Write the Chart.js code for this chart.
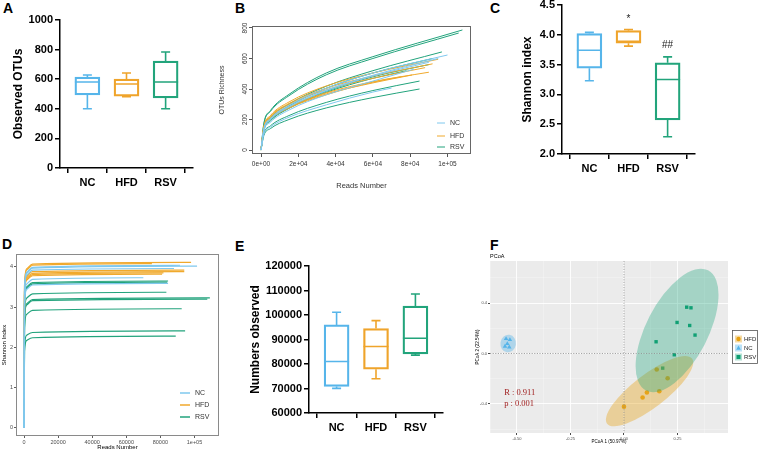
<!DOCTYPE html>
<html>
<head>
<meta charset="utf-8">
<script src="https://cdn.jsdelivr.net/npm/chart.js@4.4.0/dist/chart.umd.min.js"></script>
<style>
  html, body { margin: 0; padding: 0; background: #fff; }
  body { width: 760px; height: 452px; position: relative; overflow: hidden; }
  canvas { position: absolute; }
  .tag { position: absolute; font: bold 14px "Liberation Sans", Arial, sans-serif; color: #000; line-height: 1; }
</style>
</head>
<body>
<div class="tag" style="left:3px;top:1px">A</div>
<div class="tag" style="left:235px;top:1px">B</div>
<div class="tag" style="left:490px;top:1px">C</div>
<div class="tag" style="left:2px;top:237px">D</div>
<div class="tag" style="left:235px;top:239px">E</div>
<div class="tag" style="left:490px;top:238px">F</div>

<canvas id="chartA" width="205" height="195" style="left:0;top:0"></canvas>
<canvas id="chartB" width="280" height="195" style="left:210px;top:0"></canvas>
<canvas id="chartC" width="220" height="195" style="left:490px;top:-10px"></canvas>
<canvas id="chartD" width="240" height="222" style="left:0;top:230px"></canvas>
<canvas id="chartE" width="210" height="225" style="left:240px;top:225px"></canvas>
<canvas id="chartF" width="290" height="222" style="left:470px;top:230px"></canvas>

<script>
const SANS = '"Liberation Sans", Arial, sans-serif';

const groups = ["NC", "HFD", "RSV"];
const boxColors = ["#56B5EA", "#EFA42B", "#22A47B"];
const lineColors = ["#7FC8EE", "#F0A92C", "#22A37C"];

// A: observed OTUs
const otuMin = [400, 482, 400];
const otuQ1 = [493, 486, 473];
const otuMed = [581, 568, 581];
const otuQ3 = [615, 601, 723];
const otuMax = [628, 642, 784];

// C: Shannon index
const shanMin = [3.23, 3.81, 2.29];
const shanQ1 = [3.44, 3.86, 2.57];
const shanMed = [3.74, 3.89, 3.25];
const shanQ3 = [4.02, 4.07, 3.53];
const shanMax = [4.04, 4.09, 3.63];
const shanSig = ["", "*", "##"];
const shanSigAt = [null, 4.26, 3.83];

// E: reads observed
const readsMin = [70040, 73980, 83610];
const readsQ1 = [70850, 77900, 84150];
const readsMed = [81030, 87140, 90530];
const readsQ3 = [95960, 94460, 103690];
const readsMax = [101100, 97720, 108570];

// B: OTU rarefaction (reads grid, then each sample's own depth)
const rareReads = [0, 1500, 5000, 15000, 35000, 60000];
const rareNcDepth = [100000, 95000, 90000, 82000, 70000];
const rareNc = [
  [0, 137, 205, 293, 405, 505, 623],
  [0, 133, 200, 285, 393, 490, 600],
  [0, 130, 198, 282, 388, 485, 575],
  [0, 122, 182, 262, 362, 452, 530],
  [0, 102, 150, 215, 296, 380, 406],
];
const rareHfdDepth = [95000, 92000, 88000, 90000, 81000, 75000];
const rareHfd = [
  [0, 150, 225, 315, 420, 505, 595],
  [0, 148, 220, 305, 405, 485, 565],
  [0, 145, 215, 298, 395, 470, 540],
  [0, 140, 208, 285, 375, 448, 510],
  [0, 138, 205, 280, 368, 440, 492],
  [0, 135, 200, 275, 362, 445, 480],
];
const rareRsvDepth = [108000, 106000, 97000, 92000, 90000, 78000, 85000, 85000];
const rareRsv = [
  [0, 172, 258, 365, 505, 612, 787],
  [0, 168, 252, 356, 493, 600, 767],
  [0, 142, 213, 302, 418, 520, 643],
  [0, 135, 205, 290, 405, 505, 600],
  [0, 128, 195, 278, 385, 480, 560],
  [0, 128, 190, 273, 378, 470, 520],
  [0, 106, 158, 226, 312, 390, 452],
  [0, 94, 140, 200, 276, 344, 400],
];
const bTickVals = [0, 20000, 40000, 60000, 80000, 100000];
const bTickLabels = ["0e+00", "2e+04", "4e+04", "6e+04", "8e+04", "1e+05"];
const bYTicks = [0, 200, 400, 600, 800];

// D: Shannon rarefaction
const shRareReads = [0, 300, 1500, 5000];
const shNcDepth = [91500, 101500, 88000, 70000, 84500];
const shNc = [
  [0, 3.45, 3.86, 3.99, 4.04],
  [0, 3.42, 3.84, 3.97, 4.02],
  [0, 3.38, 3.79, 3.92, 3.96],
  [0, 3.18, 3.57, 3.69, 3.73],
  [0, 3.05, 3.44, 3.55, 3.59],
];
const shHfdDepth = [98000, 75000, 94000, 94000, 81800, 81000];
const shHfd = [
  [0, 3.55, 3.95, 4.07, 4.11],
  [0, 3.52, 3.92, 4.04, 4.08],
  [0, 3.38, 3.77, 3.88, 3.92],
  [0, 3.34, 3.73, 3.84, 3.88],
  [0, 3.31, 3.70, 3.81, 3.85],
  [0, 3.28, 3.67, 3.78, 3.82],
];
const shRsvDepth = [84500, 84000, 83500, 109000, 107500, 92500, 94500, 89000];
const shRsv = [
  [0, 3.10, 3.50, 3.61, 3.65],
  [0, 3.08, 3.47, 3.58, 3.62],
  [0, 2.85, 3.22, 3.33, 3.37],
  [0, 2.72, 3.08, 3.19, 3.23],
  [0, 2.70, 3.05, 3.16, 3.20],
  [0, 2.48, 2.82, 2.92, 2.96],
  [0, 2.02, 2.30, 2.37, 2.41],
  [0, 1.90, 2.17, 2.24, 2.28],
];
const dTickVals = [0, 20000, 40000, 60000, 80000, 100000];
const dTickLabels = ["0", "20000", "40000", "60000", "80000", "1e+05"];
const dYTicks = [0, 1, 2, 3, 4];

// F: PCoA
const pcoaHfd = [[0.153, -0.127], [0.204, -0.196], [0.165, -0.299], [0.107, -0.309], [0.087, -0.349], [0.0, -0.421]];
const pcoaNc = [[-0.551, 0.117], [-0.533, 0.109], [-0.545, 0.077], [-0.556, 0.056], [-0.536, 0.05]];
const pcoaRsv = [[0.293, 0.367], [0.313, 0.362], [0.248, 0.246], [0.307, 0.222], [0.332, 0.146], [0.15, 0.093], [0.235, -0.01], [0.181, -0.116]];
// ellipse: major axis end points (x1, y1, x2, y2) and minor/major ratio
const ellHfd = [-0.079, -0.556, 0.318, -0.04];
const ellHfdRatio = 0.31;
const ellNc = [-0.535, 0.148, -0.547, 0.01];
const ellNcRatio = 0.88;
const ellRsv = [0.103, -0.294, 0.393, 0.659];
const ellRsvRatio = 0.457;
const fMajorX = [-0.5, -0.25, 0, 0.25];
const fMinorX = [-0.625, -0.375, -0.125, 0.125, 0.375];
const fMajorY = [-0.4, 0, 0.4];
const fMinorY = [-0.6, -0.2, 0.2, 0.6];
const fStats = ["R : 0.911", "p : 0.001"];
const fStatY = [-0.31, -0.395];
const fStatX = -0.56;

// ---------- box plots (A, C, E) ----------
const boxExtras = {
  id: "boxExtras",
  afterDatasetsDraw(chart, args, opts) {
    const { ctx } = chart;
    const y = chart.scales.y;
    const meta = chart.getDatasetMeta(0);
    ctx.save();
    ctx.lineWidth = 1.6;
    meta.data.forEach((bar, i) => {
      const xc = bar.x;
      const half = bar.width / 2;
      const pMin = y.getPixelForValue(opts.min[i]);
      const pQ1 = y.getPixelForValue(opts.q1[i]);
      const pMed = y.getPixelForValue(opts.med[i]);
      const pQ3 = y.getPixelForValue(opts.q3[i]);
      const pMax = y.getPixelForValue(opts.max[i]);
      ctx.strokeStyle = boxColors[i];
      ctx.beginPath();
      ctx.moveTo(xc - half, pMed);
      ctx.lineTo(xc + half, pMed);
      ctx.moveTo(xc, pQ3);
      ctx.lineTo(xc, pMax);
      ctx.moveTo(xc - 4.5, pMax);
      ctx.lineTo(xc + 4.5, pMax);
      ctx.moveTo(xc, pQ1);
      ctx.lineTo(xc, pMin);
      ctx.moveTo(xc - 4.5, pMin);
      ctx.lineTo(xc + 4.5, pMin);
      ctx.stroke();
      if (opts.sig && opts.sig[i]) {
        ctx.fillStyle = "#222";
        ctx.font = "10px " + SANS;
        ctx.textAlign = "center";
        ctx.textBaseline = "middle";
        ctx.fillText(opts.sig[i], xc, y.getPixelForValue(opts.sigAt[i]));
      }
    });
    ctx.restore();
  },
};

function boxChart(id, stats, yOpts, lay) {
  return new Chart(document.getElementById(id), {
    type: "bar",
    data: {
      datasets: [
        {
          data: groups.map((g, i) => ({ x: i + 1, y: [stats.q1[i], stats.q3[i]] })),
          backgroundColor: "rgba(255,255,255,0)",
          borderColor: boxColors,
          borderWidth: 1.6,
          borderSkipped: false,
          barThickness: 25,
        },
      ],
    },
    options: {
      responsive: false,
      animation: false,
      layout: { padding: { top: lay.top, right: lay.right, left: 0, bottom: 0 } },
      plugins: {
        legend: { display: false },
        tooltip: { enabled: false },
        boxExtras: stats,
      },
      scales: {
        x: {
          type: "linear",
          offset: false,
          min: 0.3,
          max: 3.7,
          afterBuildTicks: (s) => {
            s.ticks = groups.map((g, i) => ({ value: i + 1 }));
          },
          afterFit: (s) => {
            s.height = lay.xh;
          },
          ticks: {
            callback: (v, i) => groups[i],
            font: { family: SANS, size: 11, weight: "bold" },
            color: "#000",
            padding: 3,
            maxRotation: 0,
          },
          grid: { drawOnChartArea: false, tickLength: 5, color: "#000", lineWidth: 1.5 },
          border: { color: "#000", width: 1.5 },
        },
        y: {
          min: yOpts.min,
          max: yOpts.max,
          ticks: {
            stepSize: yOpts.step,
            callback: yOpts.fmt,
            font: { family: SANS, size: 11, weight: "bold" },
            color: "#000",
            padding: 2,
          },
          afterFit: (s) => {
            s.width = lay.yw;
          },
          grid: { drawOnChartArea: false, tickLength: 5, color: "#000", lineWidth: 1.5 },
          border: { color: "#000", width: 1.5 },
          title: {
            display: true,
            text: yOpts.title,
            font: { family: SANS, size: 12, weight: "bold" },
            color: "#000",
            padding: { top: lay.tp, bottom: 0 },
          },
        },
      },
    },
    plugins: [boxExtras],
  });
}

boxChart(
  "chartA",
  { min: otuMin, q1: otuQ1, med: otuMed, q3: otuQ3, max: otuMax },
  { min: 0, max: 1000, step: 200, title: "Observed OTUs", fmt: (v) => String(v) },
  { top: 20, right: 12, xh: 27, yw: 60, tp: 11 }
);

boxChart(
  "chartC",
  { min: shanMin, q1: shanQ1, med: shanMed, q3: shanQ3, max: shanMax, sig: shanSig, sigAt: shanSigAt },
  { min: 2, max: 4.5, step: 0.5, title: "Shannon index", fmt: (v) => v.toFixed(1) },
  { top: 15, right: 15, xh: 31, yw: 72, tp: 30 }
);

boxChart(
  "chartE",
  { min: readsMin, q1: readsQ1, med: readsMed, q3: readsQ3, max: readsMax },
  { min: 60000, max: 120000, step: 10000, title: "Numbers observed", fmt: (v) => String(v) },
  { top: 41, right: 7, xh: 37, yw: 69, tp: 8 }
);

// ---------- rarefaction curves (B, D) ----------
function curveSets(reads, depths, values, color, width) {
  return values.map((vals, k) => ({
    data: vals.map((v, j) => ({ x: j < reads.length ? reads[j] : depths[k], y: v })),
    borderColor: color,
    borderWidth: width,
    pointRadius: 0,
    cubicInterpolationMode: "monotone",
    fill: false,
  }));
}

const lineLegend = {
  id: "lineLegend",
  afterDraw(chart, args, o) {
    const { ctx, chartArea } = chart;
    ctx.save();
    ctx.font = o.size + "px " + SANS;
    ctx.textBaseline = "middle";
    ctx.textAlign = "left";
    groups.forEach((g, i) => {
      const yy = chartArea.bottom - o.rows[i];
      ctx.strokeStyle = lineColors[i];
      ctx.lineWidth = o.lw;
      ctx.beginPath();
      ctx.moveTo(chartArea.right - o.x1, yy);
      ctx.lineTo(chartArea.right - o.x2, yy);
      ctx.stroke();
      ctx.fillStyle = "#333";
      ctx.fillText(g, chartArea.right - o.tx, yy);
    });
    ctx.restore();
  },
};

const frameBox = {
  id: "frameBox",
  afterDraw(chart, args, o) {
    const { ctx, chartArea: a } = chart;
    ctx.save();
    ctx.strokeStyle = o.color;
    ctx.lineWidth = o.lw;
    ctx.strokeRect(a.left + 0.5, a.top + 0.5, a.right - a.left - 1, a.bottom - a.top - 1);
    if (o.rotY) {
      const y = chart.scales.y;
      ctx.fillStyle = "#333";
      ctx.font = "6.5px " + SANS;
      ctx.textAlign = "center";
      ctx.textBaseline = "middle";
      y.ticks.forEach((t) => {
        ctx.save();
        ctx.translate(a.left - 7, y.getPixelForValue(t.value));
        ctx.rotate(-Math.PI / 2);
        ctx.fillText(String(t.value), 0, 0);
        ctx.restore();
      });
    }
    ctx.restore();
  },
};

new Chart(document.getElementById("chartB"), {
  type: "line",
  data: {
    datasets: [
      ...curveSets(rareReads, rareNcDepth, rareNc, lineColors[0], 1),
      ...curveSets(rareReads, rareHfdDepth, rareHfd, lineColors[1], 1),
      ...curveSets(rareReads, rareRsvDepth, rareRsv, lineColors[2], 1),
    ],
  },
  options: {
    responsive: false,
    animation: false,
    layout: { padding: { top: 26, right: 19, left: 0, bottom: 0 } },
    plugins: {
      legend: { display: false },
      tooltip: { enabled: false },
      lineLegend: { rows: [31, 18, 7], x1: 34, x2: 26, tx: 21, size: 7, lw: 1 },
      frameBox: { color: "#666", lw: 1, rotY: true },
    },
    scales: {
      x: {
        type: "linear",
        min: -4826,
        max: 112600,
        afterBuildTicks: (s) => {
          s.ticks = bTickVals.map((v) => ({ value: v }));
        },
        afterFit: (s) => {
          s.height = 41;
        },
        ticks: {
          callback: (v, i) => bTickLabels[i],
          font: { family: SANS, size: 6.5 },
          color: "#333",
          padding: 3,
          maxRotation: 0,
        },
        grid: { drawOnChartArea: false, tickLength: 3, color: "#555", lineWidth: 1 },
        border: { display: false },
        title: {
          display: true,
          text: "Reads Number",
          font: { family: SANS, size: 7.5 },
          color: "#333",
          padding: { top: 0, bottom: 5 },
        },
      },
      y: {
        min: -26,
        max: 813,
        afterBuildTicks: (s) => {
          s.ticks = bYTicks.map((v) => ({ value: v }));
        },
        afterFit: (s) => {
          s.width = 42;
        },
        ticks: { display: false },
        grid: { drawOnChartArea: false, tickLength: 3, color: "#555", lineWidth: 1 },
        border: { display: false },
        title: {
          display: true,
          text: "OTUs Richness",
          font: { family: SANS, size: 7 },
          color: "#333",
          padding: { top: 8, bottom: 0 },
        },
      },
    },
  },
  plugins: [lineLegend, frameBox],
});

new Chart(document.getElementById("chartD"), {
  type: "line",
  data: {
    datasets: [
      ...curveSets(shRareReads, shNcDepth, shNc, lineColors[0], 1.2),
      ...curveSets(shRareReads, shHfdDepth, shHfd, lineColors[1], 1.2),
      ...curveSets(shRareReads, shRsvDepth, shRsv, lineColors[2], 1.2),
    ],
  },
  options: {
    responsive: false,
    animation: false,
    layout: { padding: { top: 24, right: 21, left: 0, bottom: 0 } },
    plugins: {
      legend: { display: false },
      tooltip: { enabled: false },
      lineLegend: { rows: [43, 31, 19], x1: 39, x2: 29, tx: 24, size: 7, lw: 1.5 },
      frameBox: { color: "#8a8a8a", lw: 1, rotY: false },
    },
    scales: {
      x: {
        type: "linear",
        min: -4700,
        max: 114370,
        afterBuildTicks: (s) => {
          s.ticks = dTickVals.map((v) => ({ value: v }));
        },
        afterFit: (s) => {
          s.height = 16;
        },
        ticks: {
          callback: (v, i) => dTickLabels[i],
          font: { family: SANS, size: 5.5 },
          color: "#4d4d4d",
          padding: 1,
          maxRotation: 0,
        },
        grid: { drawOnChartArea: false, tickLength: 2, color: "#333", lineWidth: 0.8 },
        border: { display: false },
        title: {
          display: true,
          text: "Reads Number",
          font: { family: SANS, size: 6 },
          color: "#000",
          padding: { top: 0, bottom: 1 },
        },
      },
      y: {
        min: -0.2,
        max: 4.32,
        afterBuildTicks: (s) => {
          s.ticks = dYTicks.map((v) => ({ value: v }));
        },
        afterFit: (s) => {
          s.width = 16;
        },
        ticks: { font: { family: SANS, size: 5.5 }, color: "#4d4d4d", padding: 1 },
        grid: { drawOnChartArea: false, tickLength: 2, color: "#333", lineWidth: 0.8 },
        border: { display: false },
        title: {
          display: true,
          text: "Shannon Index",
          font: { family: SANS, size: 6 },
          color: "#000",
          padding: { top: 1, bottom: 0 },
        },
      },
    },
  },
  plugins: [lineLegend, frameBox],
});

// ---------- PCoA (F) ----------
const pcoaDecor = {
  id: "pcoaDecor",
  beforeDraw(chart) {
    const { ctx, chartArea: a } = chart;
    ctx.save();
    ctx.fillStyle = "#EBEBEB";
    ctx.fillRect(a.left, a.top, a.right - a.left, a.bottom - a.top);
    ctx.restore();
  },
  afterDatasetsDraw(chart) {
    const { ctx, chartArea: a, scales: { x, y } } = chart;
    ctx.save();
    ctx.beginPath();
    ctx.rect(a.left, a.top, a.right - a.left, a.bottom - a.top);
    ctx.clip();
    const ells = [
      [ellHfd, ellHfdRatio, "rgba(232,170,40,0.42)"],
      [ellNc, ellNcRatio, "rgba(86,180,233,0.40)"],
      [ellRsv, ellRsvRatio, "rgba(20,165,120,0.33)"],
    ];
    ells.forEach(([e, ratio, fill]) => {
      const x1 = x.getPixelForValue(e[0]);
      const y1 = y.getPixelForValue(e[1]);
      const x2 = x.getPixelForValue(e[2]);
      const y2 = y.getPixelForValue(e[3]);
      const major = Math.hypot(x2 - x1, y2 - y1) / 2;
      ctx.fillStyle = fill;
      ctx.beginPath();
      ctx.ellipse((x1 + x2) / 2, (y1 + y2) / 2, major, major * ratio, Math.atan2(y2 - y1, x2 - x1), 0, Math.PI * 2);
      ctx.fill();
    });
    // zero reference lines
    ctx.strokeStyle = "#8c8c8c";
    ctx.lineWidth = 0.8;
    ctx.setLineDash([1.2, 1.4]);
    ctx.beginPath();
    const x0 = x.getPixelForValue(0);
    const y0 = y.getPixelForValue(0);
    ctx.moveTo(x0, a.top);
    ctx.lineTo(x0, a.bottom);
    ctx.moveTo(a.left, y0);
    ctx.lineTo(a.right, y0);
    ctx.stroke();
    ctx.setLineDash([]);
    // statistics text
    ctx.fillStyle = "#A01E1E";
    ctx.font = '8.5px "Liberation Serif", "Times New Roman", serif';
    ctx.textAlign = "left";
    ctx.textBaseline = "middle";
    fStats.forEach((t, i) => ctx.fillText(t, x.getPixelForValue(fStatX), y.getPixelForValue(fStatY[i])));
    ctx.restore();
  },
  afterDraw(chart) {
    const { ctx, chartArea: a } = chart;
    ctx.save();
    ctx.fillStyle = "#000";
    ctx.font = "5.5px " + SANS;
    ctx.textAlign = "left";
    ctx.textBaseline = "middle";
    ctx.fillText("PCoA", a.left, a.top - 5);
    // legend
    const lx = a.right + 4;
    const ly = a.top + 69;
    ctx.fillStyle = "#fff";
    ctx.fillRect(lx, ly, 26, 34);
    ctx.strokeStyle = "#555";
    ctx.lineWidth = 0.8;
    ctx.strokeRect(lx + 0.5, ly + 0.5, 25, 33);
    const keyFill = ["rgba(232,170,40,0.42)", "rgba(86,180,233,0.40)", "rgba(20,165,120,0.33)"];
    const keyPt = ["#E6A00F", "#56B4E9", "#0E9E72"];
    const names = ["HFD", "NC", "RSV"];
    names.forEach((n, i) => {
      const cy = ly + 9 + i * 9;
      ctx.fillStyle = keyFill[i];
      ctx.fillRect(lx + 3, cy - 3.5, 7, 7);
      ctx.fillStyle = keyPt[i];
      ctx.beginPath();
      if (i === 0) ctx.arc(lx + 6.5, cy, 2.2, 0, Math.PI * 2);
      else if (i === 1) {
        ctx.moveTo(lx + 6.5, cy - 2.4);
        ctx.lineTo(lx + 8.8, cy + 1.8);
        ctx.lineTo(lx + 4.2, cy + 1.8);
        ctx.closePath();
      } else ctx.rect(lx + 4.5, cy - 2, 4, 4);
      ctx.fill();
      ctx.fillStyle = "#222";
      ctx.font = "6px " + SANS;
      ctx.fillText(n, lx + 12, cy);
    });
    ctx.restore();
  },
};

const isMajorX = (v) => fMajorX.some((m) => Math.abs(m - v) < 1e-6);
const isMajorY = (v) => fMajorY.some((m) => Math.abs(m - v) < 1e-6);

new Chart(document.getElementById("chartF"), {
  type: "scatter",
  data: {
    datasets: [
      {
        data: pcoaHfd.map(([x, y]) => ({ x, y })),
        pointStyle: "circle",
        pointRadius: 2.3,
        backgroundColor: "#E6A00F",
        borderWidth: 0,
      },
      {
        data: pcoaNc.map(([x, y]) => ({ x, y })),
        pointStyle: "triangle",
        pointRadius: 2.6,
        backgroundColor: "#56B4E9",
        borderWidth: 0,
      },
      {
        data: pcoaRsv.map(([x, y]) => ({ x, y })),
        pointStyle: "rect",
        pointRadius: 2.4,
        backgroundColor: "#0E9E72",
        borderWidth: 0,
      },
    ],
  },
  options: {
    responsive: false,
    animation: false,
    layout: { padding: { top: 31, right: 32, left: 0, bottom: 0 } },
    plugins: { legend: { display: false }, tooltip: { enabled: false } },
    scales: {
      x: {
        type: "linear",
        min: -0.626,
        max: 0.486,
        afterBuildTicks: (s) => {
          s.ticks = [...fMajorX, ...fMinorX].sort((p, q) => p - q).map((v) => ({ value: v }));
        },
        afterFit: (s) => {
          s.height = 19;
        },
        ticks: {
          callback: (v) => (isMajorX(v) ? v.toFixed(2) : ""),
          font: { family: SANS, size: 4 },
          color: "#4d4d4d",
          padding: 1,
          maxRotation: 0,
          autoSkip: false,
        },
        grid: {
          color: (c) => (isMajorX(c.tick.value) ? "#ffffff" : "rgba(255,255,255,0.55)"),
          lineWidth: (c) => (isMajorX(c.tick.value) ? 0.9 : 0.5),
          tickColor: (c) => (isMajorX(c.tick.value) ? "#333" : "rgba(0,0,0,0)"),
          tickLength: 2,
        },
        border: { display: false },
        title: {
          display: true,
          text: "PCoA 1 (50.97%)",
          font: { family: SANS, size: 4.5 },
          color: "#000",
          padding: { top: 0, bottom: 8 },
        },
      },
      y: {
        min: -0.63,
        max: 0.733,
        afterBuildTicks: (s) => {
          s.ticks = [...fMajorY, ...fMinorY].sort((p, q) => p - q).map((v) => ({ value: v }));
        },
        afterFit: (s) => {
          s.width = 20;
        },
        ticks: {
          callback: (v) => (isMajorY(v) ? v.toFixed(1) : ""),
          font: { family: SANS, size: 4 },
          color: "#4d4d4d",
          padding: 1,
          autoSkip: false,
        },
        grid: {
          color: (c) => (isMajorY(c.tick.value) ? "#ffffff" : "rgba(255,255,255,0.55)"),
          lineWidth: (c) => (isMajorY(c.tick.value) ? 0.9 : 0.5),
          tickColor: (c) => (isMajorY(c.tick.value) ? "#333" : "rgba(0,0,0,0)"),
          tickLength: 2,
        },
        border: { display: false },
        title: {
          display: true,
          text: "PCoA 2 (22.54%)",
          font: { family: SANS, size: 4.5 },
          color: "#000",
          padding: { top: 5, bottom: 0 },
        },
      },
    },
  },
  plugins: [pcoaDecor],
});
</script>
</body>
</html>
